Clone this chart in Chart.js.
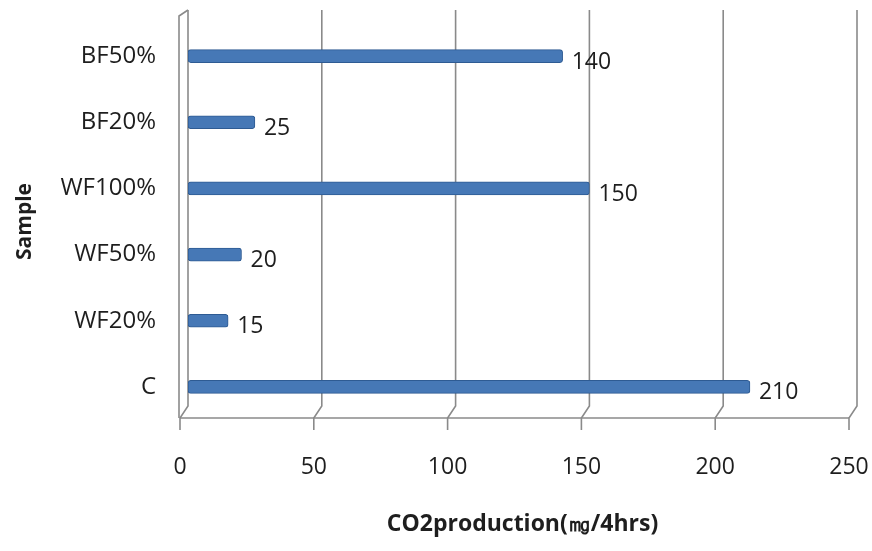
<!DOCTYPE html>
<html>
<head>
<meta charset="utf-8">
<script src="https://cdn.jsdelivr.net/npm/chart.js@4/dist/chart.umd.min.js"></script>
<style>
  html, body { margin: 0; padding: 0; background: #ffffff; }
  #wrap { width: 872px; height: 551px; position: relative; }
</style>
</head>
<body>
<div id="wrap"><canvas id="c" width="872" height="551"></canvas></div>
<script>
const categories = ['BF50%', 'BF20%', 'WF100%', 'WF50%', 'WF20%', 'C'];
const co2Values = [140, 25, 150, 20, 15, 210];
const xTicks = [0, 50, 100, 150, 200, 250];
const xTitle = 'CO2production(㎎/4hrs)';
const yTitle = 'Sample';

const DEPTH_X = 8;
const FONT = "'Open Sans', 'Liberation Sans', sans-serif";

const frame3d = {
  id: 'frame3d',
  beforeDatasetsDraw(chart) {
    const ctx = chart.ctx;
    const xs = chart.scales.x;
    const area = chart.chartArea;
    const top = area.top - 13;
    const backBottom = area.bottom - 14;
    const floor = area.bottom - 2;
    ctx.save();
    ctx.strokeStyle = '#8a8a8a';
    ctx.lineWidth = 1.6;
    xTicks.forEach(v => {
      const bx = xs.getPixelForValue(v);
      ctx.beginPath();
      ctx.moveTo(bx, top);
      ctx.lineTo(bx, backBottom);
      ctx.lineTo(bx - DEPTH_X, floor);
      ctx.lineTo(bx - DEPTH_X, floor + 12);
      ctx.stroke();
    });
    const x0 = xs.getPixelForValue(xTicks[0]);
    const xN = xs.getPixelForValue(xTicks[xTicks.length - 1]);
    ctx.beginPath();
    ctx.moveTo(x0 - DEPTH_X, floor);
    ctx.lineTo(xN - DEPTH_X, floor);
    ctx.stroke();
    ctx.beginPath();
    ctx.moveTo(x0, top);
    ctx.lineTo(x0 - DEPTH_X - 1, top + 6);
    ctx.lineTo(x0 - DEPTH_X - 1, floor);
    ctx.stroke();
    ctx.restore();
  }
};

const valueLabels = {
  id: 'valueLabels',
  afterDatasetsDraw(chart) {
    const ctx = chart.ctx;
    const meta = chart.getDatasetMeta(0);
    ctx.save();
    ctx.fillStyle = '#1e1e1e';
    ctx.font = '23px ' + FONT;
    ctx.textAlign = 'left';
    ctx.textBaseline = 'middle';
    meta.data.forEach((bar, i) => {
      ctx.fillText(String(co2Values[i]), bar.x + 9, bar.y + 6);
    });
    ctx.restore();
  }
};

new Chart(document.getElementById('c'), {
  type: 'bar',
  data: {
    labels: categories,
    datasets: [{
      data: co2Values,
      backgroundColor: '#4678B6',
      borderColor: '#2E5B93',
      borderWidth: 1,
      borderRadius: 3,
      borderSkipped: false,
      barThickness: 13
    }]
  },
  options: {
    indexAxis: 'y',
    responsive: false,
    animation: false,
    devicePixelRatio: 1,
    layout: { padding: { top: 23, right: 15, left: 4, bottom: 2 } },
    plugins: {
      legend: { display: false },
      tooltip: { enabled: false }
    },
    scales: {
      x: {
        type: 'linear',
        min: 0,
        max: 250,
        afterBuildTicks(scale) { scale.ticks = xTicks.map(v => ({ value: v })); },
        grid: { display: false, drawTicks: false },
        border: { display: false },
        ticks: {
          font: { family: FONT, size: 23 },
          color: '#1e1e1e',
          padding: 34,
          labelOffset: -DEPTH_X
        },
        title: {
          display: true,
          text: xTitle,
          font: { family: FONT, size: 23, weight: 'bold' },
          color: '#1e1e1e',
          padding: { top: 20, bottom: 11 }
        },
        afterFit(scale) {
          scale.height = 551 - 2 - 420;
          scale.paddingLeft = 0;
          scale.paddingRight = 0;
        }
      },
      y: {
        type: 'category',
        grid: { display: false, drawTicks: false },
        border: { display: false },
        ticks: {
          font: { family: FONT, size: 24 },
          color: '#1e1e1e',
          padding: 32
        },
        title: {
          display: true,
          text: yTitle,
          font: { family: FONT, size: 21, weight: 'bold' },
          color: '#1e1e1e',
          padding: { top: 8, bottom: 4 }
        },
        afterFit(scale) {
          scale.width = 188 - 4;
          scale.paddingTop = 0;
          scale.paddingBottom = 0;
        }
      }
    }
  },
  plugins: [frame3d, valueLabels]
});
</script>
</body>
</html>
